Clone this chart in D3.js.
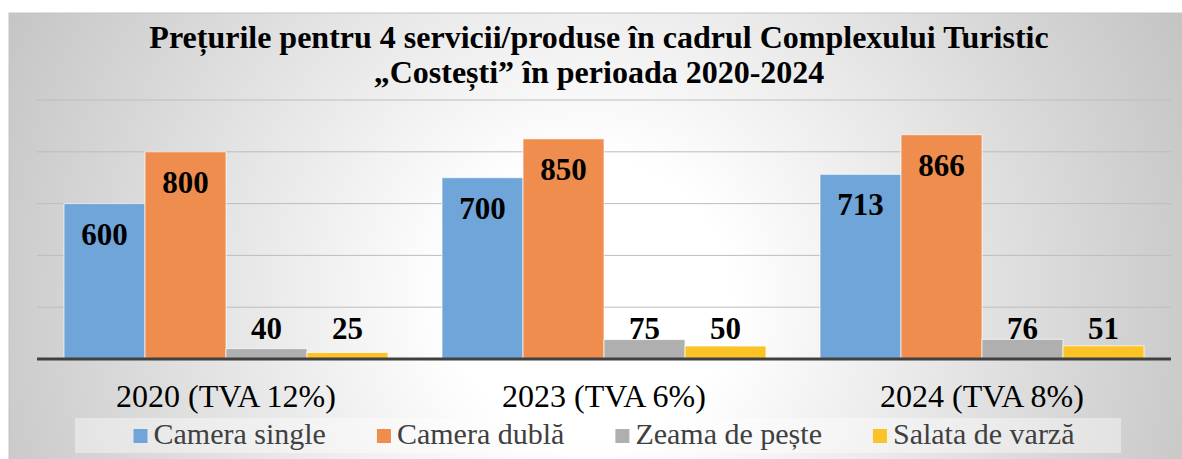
<!DOCTYPE html>
<html>
<head>
<meta charset="utf-8">
<script src="https://cdn.jsdelivr.net/npm/d3@7"></script>
<style>
  body { margin: 0; background: #fff; }
  svg { display: block; }
</style>
</head>
<body>
<div id="chart"></div>
<script>
// data
const categories = ['2020 (TVA 12%)', '2023 (TVA 6%)', '2024 (TVA 8%)'];
const seriesNames = ['Camera single', 'Camera dublă', 'Zeama de pește', 'Salata de varză'];
const cameraSingle = [600, 700, 713];
const cameraDubla = [800, 850, 866];
const zeamaPeste = [40, 75, 76];
const salataVarza = [25, 50, 51];
const yTicks = [0, 200, 400, 600, 800, 1000];
const titleLines = ['Prețurile pentru 4 servicii/produse în cadrul Complexului Turistic', '„Costești” în perioada 2020-2024'];

const colors = ['#6fa5d8', '#ee8d4e', '#afafaf', '#fbc325'];
const seriesValues = [cameraSingle, cameraDubla, zeamaPeste, salataVarza];
const serif = "'Liberation Serif', 'Times New Roman', Times, 'DejaVu Serif', serif";

const width = 1182, height = 459;
const svg = d3.select('#chart').append('svg')
  .attr('width', width).attr('height', height)
  .style('font-family', serif);

// background with radial gradient like the office chart
const defs = svg.append('defs');
const grad = defs.append('radialGradient')
  .attr('id', 'bg')
  .attr('gradientUnits', 'userSpaceOnUse')
  .attr('cx', 590).attr('cy', 300).attr('r', 700);
grad.append('stop').attr('offset', 0).attr('stop-color', '#ffffff');
grad.append('stop').attr('offset', 0.2).attr('stop-color', '#ffffff');
grad.append('stop').attr('offset', 1).attr('stop-color', '#bfbfbf');

svg.append('rect')
  .attr('x', 9).attr('y', 13)
  .attr('width', 1185).attr('height', 460)
  .attr('fill', 'url(#bg)')
  .attr('stroke', '#c4c4c4');

// title
svg.append('g').selectAll('text')
  .data(titleLines)
  .enter()
  .append('text')
  .attr('x', 599)
  .attr('y', (d, i) => 48 + i * 35)
  .attr('text-anchor', 'middle')
  .attr('font-family', serif)
  .style('font-size', '32px')
  .style('font-weight', 'bold')
  .text((d) => d);

// scales
const x0 = d3.scaleBand().domain(categories).range([37, 1171]);
const x1 = d3.scaleBand().domain(seriesNames).range([27, 351]);
const y = d3.scaleLinear().domain([0, 1000]).range([359, 100]);

// gridlines
svg.append('g').selectAll('line')
  .data(yTicks.filter((t) => t > 0))
  .enter()
  .append('line')
  .attr('x1', 37).attr('x2', 1171)
  .attr('y1', (d) => y(d)).attr('y2', (d) => y(d))
  .attr('stroke', '#bdbdbd')
  .attr('stroke-width', 1);

// bars
const table = categories.map((c, i) => ({
  cat: c,
  items: seriesNames.map((s, j) => ({ s, j, v: seriesValues[j][i] })),
}));

const groups = svg.append('g').selectAll('g')
  .data(table)
  .enter()
  .append('g')
  .attr('transform', (d) => `translate(${x0(d.cat)},0)`);

groups.selectAll('rect')
  .data((d) => d.items)
  .enter()
  .append('rect')
  .attr('x', (d) => x1(d.s))
  .attr('y', (d) => y(d.v))
  .attr('width', x1.bandwidth())
  .attr('height', (d) => y(0) - y(d.v))
  .attr('fill', (d) => colors[d.j])
  .attr('stroke', 'rgba(255,255,255,0.7)')
  .attr('stroke-width', 1);

// data labels: inside end for the tall bars, just above axis for the small ones
groups.selectAll('text')
  .data((d) => d.items)
  .enter()
  .append('text')
  .attr('x', (d) => x1(d.s) + x1.bandwidth() / 2)
  .attr('y', (d) => (d.v > 200 ? y(d.v) + 41 : y(0) - 20))
  .attr('text-anchor', 'middle')
  .attr('font-family', serif)
  .style('font-size', '31px')
  .style('font-weight', 'bold')
  .text((d) => d.v);

// axis baseline
svg.append('line')
  .attr('x1', 37).attr('x2', 1171)
  .attr('y1', y(0)).attr('y2', y(0))
  .attr('stroke', '#404040')
  .attr('stroke-width', 3);

// category labels
svg.append('g').selectAll('text')
  .data(categories)
  .enter()
  .append('text')
  .attr('x', (d) => x0(d) + x0.bandwidth() / 2)
  .attr('y', 407)
  .attr('text-anchor', 'middle')
  .attr('font-family', serif)
  .style('font-size', '32px')
  .text((d) => d);

// legend
svg.append('rect')
  .attr('x', 75).attr('y', 418)
  .attr('width', 1046).attr('height', 35)
  .attr('fill', 'rgba(255,255,255,0.4)');

const legend = svg.append('g');
const items = legend.selectAll('g')
  .data(seriesNames)
  .enter()
  .append('g');

items.append('rect')
  .attr('y', 429)
  .attr('width', 14).attr('height', 14)
  .attr('fill', (d, i) => colors[i]);

items.append('text')
  .attr('x', 20)
  .attr('y', 444)
  .attr('font-family', serif)
  .style('font-size', '30px')
  .attr('fill', '#404040')
  .text((d) => d);

let pos = 0;
const gap = 51;
items.each(function () {
  const w = 20 + d3.select(this).select('text').node().getComputedTextLength();
  d3.select(this).attr('data-x', pos);
  pos += w + gap;
});
const total = pos - gap;
const startX = 604 - total / 2;
items.attr('transform', function () {
  return `translate(${startX + +d3.select(this).attr('data-x')},0)`;
});
</script>
</body>
</html>
